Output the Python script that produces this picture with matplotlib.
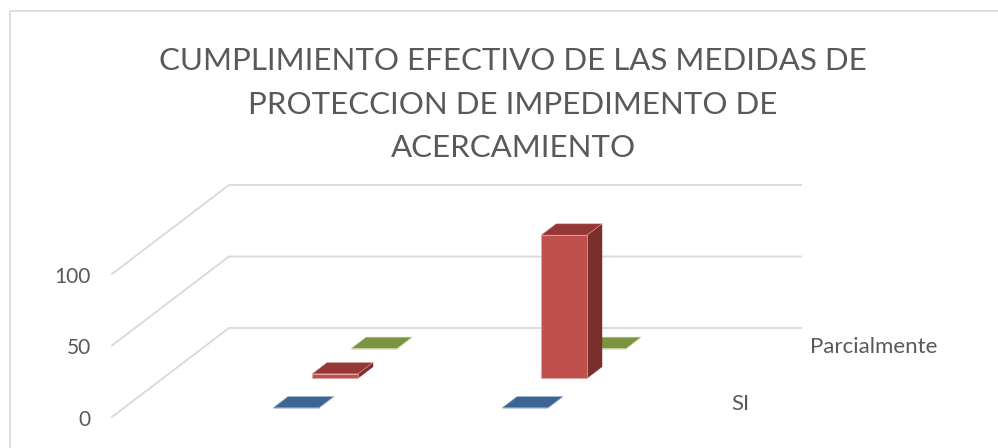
import matplotlib
matplotlib.use('Agg')
import matplotlib.pyplot as plt
from matplotlib.patches import Polygon

plt.rcParams['font.family'] = ['Lato', 'DejaVu Sans']

title_lines = ['CUMPLIMIENTO EFECTIVO DE LAS MEDIDAS DE',
               'PROTECCION DE IMPEDIMENTO DE',
               'ACERCAMIENTO']
ticks = [0, 50, 100]

# one row per series, front to back, one value per category
series_si = [0, 0]
series_no = [3, 100]
series_parcial = [0, 0]
series_labels = ['SI', '', 'Parcialmente']

front_colors = ['#4f81bd', '#c0504d', '#9bbb59']
top_colors = ['#3d6594', '#953735', '#7a9441']
side_colors = ['#2f4e73', '#7a2f2d', '#5f7333']
edge_colors = ['#a9c0dc', '#dfa9a7', '#cddbab']

# pixel geometry of the oblique projection
x0, y0 = 112, 417
depth_dx, depth_dy = 39, -29.67
unit_px = 1.43
floor_w = 572
cat_w = 229
cat_start = 149
bar_w = 46
bar_depth = 0.385
n_depth = 3


def project(x, depth, value):
    return (x0 + x + depth * depth_dx, y0 + depth * depth_dy - value * unit_px)


fig = plt.figure(figsize=(9.98, 4.48), dpi=100)
ax = fig.add_axes([0, 0, 1, 1])
ax.set_xlim(0, 998)
ax.set_ylim(448, 0)
ax.axis('off')

# chart frame
ax.plot([10.5, 10.5, 998], [448, 11.5, 11.5], color='#d9d9d9', lw=1.2)

for i, line in enumerate(title_lines):
    ax.text(513, 61 + i * 43.5, line, ha='center', va='center', fontsize=22.5, color='#595959')

# gridlines and value labels
for t in ticks:
    pts = [project(0, 0, t), project(0, n_depth, t), project(floor_w, n_depth, t)]
    ax.plot([p[0] for p in pts], [p[1] for p in pts], color='#d9d9d9', lw=1.3, zorder=1)
    fx, fy = project(0, 0, t)
    ax.text(fx - 21, fy + 3, str(t), ha='right', va='center', fontsize=15, color='#595959')

all_series = [series_si, series_no, series_parcial]
offset = (1 - bar_depth) / 2
for j in reversed(range(len(all_series))):
    for i, v in enumerate(all_series[j]):
        left = cat_start + i * cat_w
        d0 = j + offset
        d1 = d0 + bar_depth
        right = left + bar_w
        front = [project(left, d0, 0), project(right, d0, 0), project(right, d0, v), project(left, d0, v)]
        side = [project(right, d0, 0), project(right, d1, 0), project(right, d1, v), project(right, d0, v)]
        top = [project(left, d0, v), project(right, d0, v), project(right, d1, v), project(left, d1, v)]
        ec = edge_colors[j]
        ax.add_patch(Polygon(side, fc=side_colors[j], ec=side_colors[j], lw=0.3, zorder=2))
        ax.add_patch(Polygon(front, fc=front_colors[j], ec=ec, lw=0.5, zorder=2))
        ax.add_patch(Polygon(top, fc=top_colors[j], ec=ec, lw=0.4, zorder=2))

# series labels along the depth axis
label_pos = [(731, 404), None, (810, 347)]
for lab, pos in zip(series_labels, label_pos):
    if pos:
        ax.text(pos[0], pos[1], lab, ha='left', va='center', fontsize=16, color='#595959')

fig.savefig('out.png', dpi=100)
